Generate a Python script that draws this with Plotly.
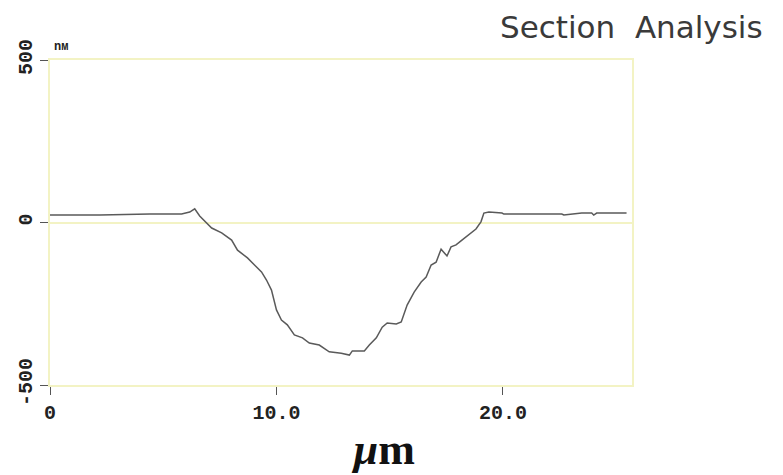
import plotly.graph_objects as go

# Surface profile across the trench (x in µm, height in nm)
x_um = [0.00, 2.20, 4.41, 5.81, 6.17, 6.30, 6.39, 6.61, 6.92, 7.14, 7.58, 8.02,
        8.28, 8.72, 9.12, 9.34, 9.56, 9.78, 10.00, 10.22, 10.48, 10.79, 11.15,
        11.45, 11.89, 12.33, 12.86, 13.22, 13.35, 13.88, 14.10, 14.41, 14.67,
        14.89, 15.29, 15.51, 15.77, 16.08, 16.39, 16.61, 16.83, 17.05, 17.27,
        17.40, 17.53, 17.71, 17.93, 18.19, 18.50, 18.81, 19.03, 19.16, 19.38,
        19.96, 20.04, 22.60, 22.69, 23.48, 23.92, 24.01, 24.14, 25.46]
height_nm = [23, 23, 26, 26, 32, 38, 42, 20, -2, -17, -32, -54,
             -85, -109, -137, -152, -177, -208, -269, -300, -315, -346, -355,
             -371, -377, -398, -402, -408, -395, -395, -377, -355, -322,
             -309, -312, -306, -254, -214, -183, -168, -131, -122, -82,
             -91, -103, -75, -69, -54, -38, -20, 2, 29, 32,
             29, 26, 26, 23, 29, 29, 23, 29, 29]

x_ticks = [0, 10, 20]
x_tick_labels = ["0", "10.0", "20.0"]
y_ticks = [-500, 0, 500]
y_tick_labels = ["-500", "0", "500"]

frame_yellow = "#f3f3c4"
tick_font = dict(family="Liberation Mono", size=20, color="#222222")

fig = go.Figure()
fig.add_trace(go.Scatter(
    x=x_um, y=height_nm, mode="lines",
    line=dict(color="#5a5a5a", width=1.5),
    hoverinfo="skip", showlegend=False,
))

fig.update_layout(
    width=783, height=475,
    margin=dict(l=50, r=151, t=60, b=90),
    paper_bgcolor="white", plot_bgcolor="white",
    xaxis=dict(
        range=[0, 25.7], tickvals=x_ticks,
        ticktext=[f"<b>{t}</b>" for t in x_tick_labels],
        showgrid=False, zeroline=False,
        showline=True, mirror=True, linecolor=frame_yellow, linewidth=2,
        ticks="outside", ticklen=8, tickcolor="#555555", tickwidth=1,
        tickfont=tick_font,
    ),
    yaxis=dict(
        range=[-500, 500], tickvals=y_ticks,
        ticktext=[f"<b>{t}</b>" for t in y_tick_labels],
        showgrid=False, zeroline=True, zerolinecolor=frame_yellow, zerolinewidth=2,
        showline=True, mirror=True, linecolor=frame_yellow, linewidth=2,
        ticks="outside", ticklen=8, tickcolor="#555555", tickwidth=1,
        tickangle=-90, tickfont=tick_font,
    ),
    annotations=[
        dict(text="<b>nм</b>", x=0, y=1, xref="paper", yref="paper",
             xanchor="left", yanchor="bottom", yshift=4, xshift=2, showarrow=False,
             font=dict(family="Liberation Mono", size=12, color="#222222")),
        dict(text="<b><i>µ</i>m</b>", x=0.572, y=0, xref="paper", yref="paper",
             xanchor="center", yanchor="top", yshift=-38, showarrow=False,
             font=dict(family="Liberation Serif", size=44, color="#111111")),
        dict(text="Section  Analysis",
             x=(765 - 50) / (783 - 50 - 151), y=1 + (60 - 27) / (475 - 60 - 90),
             xref="paper", yref="paper", xanchor="right", yanchor="middle",
             showarrow=False,
             font=dict(family="DejaVu Sans", size=31, color="#3a3a3a")),
    ],
)

fig.write_html("out.html")
